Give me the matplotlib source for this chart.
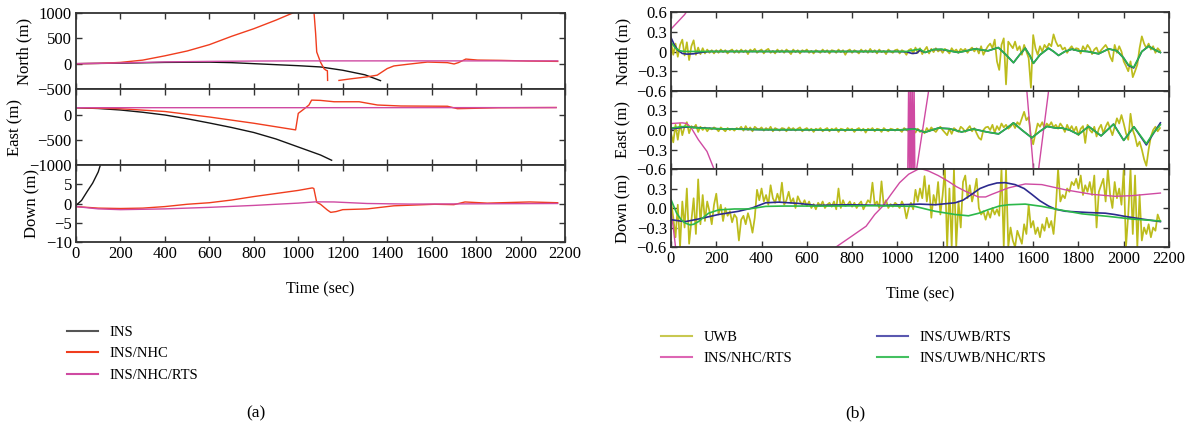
import numpy as np
import matplotlib
matplotlib.use("Agg")
import matplotlib.pyplot as plt
from matplotlib.lines import Line2D

plt.rcParams['font.family'] = ['Liberation Serif', 'DejaVu Serif']

# ---------------- (a) INS / INS/NHC / INS/NHC/RTS, metres ----------------
ins_n_t = [0, 200, 400, 600, 700, 800, 900, 1000, 1100, 1200, 1300, 1370]
ins_n = [0, 10, 25, 30, 20, 0, -20, -40, -65, -130, -220, -335]
ins_e_t = [0, 100, 200, 300, 400, 500, 600, 700, 800, 900, 1000, 1100, 1150]
ins_e = [146, 130, 100, 55, 0, -75, -160, -250, -350, -480, -640, -800, -905]
ins_d_t = [0, 25, 50, 75, 100, 115]
ins_d = [-0.5, 0.8, 3.1, 5.3, 8.2, 11]

nhc_n_t = [0, 100, 200, 300, 400, 500, 600, 700, 800, 900, 975, 1000, 1030, 1065,
           1071, 1078, 1083, 1100, 1116, 1125, 1131, 1132, 1150,
           1183, 1235, 1310, 1355, 1400, 1430, 1490, 1581, 1671, 1701, 1720, 1754,
           1807, 1912, 2032, 2167]
nhc_n = [0, 5, 25, 70, 155, 250, 375, 540, 690, 860, 1000, 1070, 1300, 1400,
         1000, 600, 230, 30, -100, -130, -140, -330, np.nan,
         -331, -300, -260, -227, -97, -45, -13, 32, 20, -6, 20, 91,
         71, 65, 52, 45]
nhc_e_t = [0, 200, 400, 600, 800, 988, 1000, 1020, 1048, 1060, 1100, 1161, 1274,
           1356, 1462, 1671, 1716, 1900, 2160]
nhc_e = [146, 125, 70, -40, -165, -298, 33, 100, 199, 298, 292, 265, 265,
         200, 180, 175, 126, 145, 150]
nhc_d_t = [0, 100, 200, 300, 400, 500, 600, 700, 800, 900, 1000, 1063, 1070, 1083,
           1100, 1131, 1146, 1170, 1200, 1311, 1430, 1614, 1700, 1750, 1850, 2040, 2167]
nhc_d = [-0.8, -1.2, -1.3, -1.2, -0.8, -0.2, 0.2, 0.9, 1.8, 2.6, 3.4, 4.05, 3.9, 0.3,
         -0.2, -1.7, -2.3, -2.1, -1.6, -1.4, -0.6, -0.2, -0.3, 0.4, 0.1, 0.4, 0.2]

rts_n_t = [0, 200, 400, 600, 800, 1000, 1500, 2167]
rts_n = [0, 15, 35, 45, 52, 55, 55, 55]
rts_e_t = [0, 1000, 2160]
rts_e = [146, 146, 148]
rts_d_t = [0, 100, 200, 400, 600, 800, 1000, 1078, 1161, 1310, 1500, 2167]
rts_d = [-0.8, -1.4, -1.6, -1.4, -1.0, -0.5, 0.1, 0.43, 0.4, 0.0, -0.15, 0.0]

# ---------------- (b) errors, metres ----------------
uwb_t = np.arange(0, 2170, 10)
uwb_n = [0.15, -0.05, 0.12, -0.08, 0.10, 0.18, -0.06, 0.14, -0.13, 0.08,
         0.17, -0.05, 0.06, -0.04, 0.05, -0.03, 0.03, -0.02, 0.02, -0.03,
         0.02, -0.02, 0.03, -0.01, 0.02, -0.03, 0.01, 0.03, -0.02, 0.02,
         -0.02, 0.03, -0.01, 0.02, -0.04, 0.03, 0.00, 0.04, -0.02, 0.01,
         0.03, -0.03, 0.02, 0.04, -0.02, 0.01, -0.03, 0.03, -0.01, 0.02,
         -0.02, 0.03, 0.00, -0.04, 0.03, -0.01, 0.02, -0.03, 0.02, 0.00,
         0.03, -0.02, 0.01, -0.03, 0.02, 0.00, -0.02, 0.03, -0.01, 0.02,
         -0.03, 0.02, 0.01, -0.02, 0.03, -0.01, 0.02, -0.05, 0.01, 0.03,
         -0.02, 0.02, 0.00, -0.03, 0.03, -0.01, 0.02, -0.02, 0.04, -0.01,
         0.02, -0.03, 0.03, -0.01, 0.01, -0.04, 0.03, 0.00, -0.02, 0.02,
         0.03, -0.03, 0.02, 0.00, -0.05, 0.02, 0.04, -0.03, 0.06, -0.02,
         0.05, -0.04, 0.02, 0.07, -0.03, 0.04, -0.01, 0.05, 0.00, 0.03,
         -0.02, 0.04, 0.01, -0.03, 0.05, 0.00, 0.03, -0.02, 0.04, 0.01,
         0.04, -0.02, 0.03, 0.06, 0.00, 0.05, -0.03, 0.08, -0.05, 0.02,
         0.08, 0.12, 0.05, 0.18, -0.15, -0.28, 0.10, 0.20, -0.50, 0.15,
         0.10, 0.05, 0.15, 0.02, 0.08, -0.05, 0.10, 0.00, -0.10, -0.55,
         0.25, 0.05, -0.05, 0.08, 0.00, 0.10, 0.05, 0.12, 0.08, 0.26,
         0.15, 0.08, 0.10, 0.03, 0.06, -0.02, 0.04, 0.08, 0.02, 0.05,
         0.04, -0.03, 0.08, 0.02, 0.10, 0.05, -0.04, 0.03, 0.06, -0.03,
         0.02, 0.06, 0.10, 0.04, -0.08, -0.15, 0.10, -0.02, 0.08, 0.00,
         -0.15, -0.22, -0.30, -0.15, -0.39, -0.30, -0.20, 0.05, 0.23, 0.12,
         0.05, 0.12, 0.03, 0.08, -0.02, 0.05, 0.01]
uwb_e = [-0.05, -0.19, 0.08, -0.15, 0.10, -0.08, 0.05, 0.12, -0.05, 0.06,
         0.03, 0.08, -0.03, 0.05, 0.00, 0.04, -0.02, 0.03, 0.01, 0.04,
         0.02, -0.02, 0.04, 0.01, -0.02, 0.03, 0.00, 0.02, -0.01, 0.03,
         0.01, 0.05, -0.01, 0.06, 0.00, 0.04, -0.02, 0.05, 0.02, 0.01,
         0.04, -0.01, 0.03, 0.00, 0.05, -0.02, 0.03, 0.01, -0.01, 0.03,
         0.02, -0.02, 0.04, 0.00, 0.03, -0.01, 0.02, 0.04, -0.02, 0.01,
         0.03, -0.01, 0.02, -0.03, 0.02, 0.00, 0.03, -0.02, 0.01, 0.03,
         -0.02, 0.02, 0.00, 0.03, -0.03, 0.02, 0.01, -0.02, 0.03, 0.00,
         0.02, -0.03, 0.01, 0.03, -0.01, 0.02, -0.04, 0.02, 0.00, 0.03,
         -0.02, 0.02, 0.01, -0.03, 0.03, 0.00, -0.02, 0.02, 0.01, -0.01,
         0.02, 0.00, -0.03, 0.03, 0.00, -0.02, 0.02, 0.01, -0.04, 0.02,
         -0.03, 0.00, -0.05, 0.03, -0.02, 0.04, 0.00, -0.03, 0.02, 0.05,
         0.00, -0.04, -0.08, 0.02, -0.06, 0.03, 0.00, -0.03, 0.05, 0.02,
         -0.03, 0.02, 0.06, -0.02, 0.03, -0.05, -0.12, -0.15, 0.00, 0.04,
         0.05, 0.00, 0.08, -0.04, 0.06, 0.00, 0.10, 0.04, 0.08, 0.02,
         0.05, 0.10, 0.03, 0.12, 0.08, 0.18, 0.28, 0.15, 0.20, -0.10,
         -0.22, -0.05, 0.10, 0.05, 0.12, 0.03, 0.10, 0.06, 0.12, 0.04,
         0.08, 0.02, 0.10, 0.05, -0.03, 0.08, 0.00, 0.06, -0.02, 0.05,
         -0.08, 0.02, 0.06, -0.20, 0.08, 0.00, -0.04, 0.05, -0.10, 0.02,
         0.08, -0.05, 0.05, 0.12, 0.02, -0.08, 0.05, 0.18, 0.10, 0.23,
         0.10, -0.05, -0.15, 0.25, 0.00, -0.10, -0.25, -0.18, -0.30, -0.45,
         -0.55, -0.30, -0.10, 0.00, 0.05, -0.02, 0.03]
uwb_d = [0.12, -0.15, -0.45, 0.05, -0.60, 0.10, -0.30, 0.30, -0.55, -0.20,
         0.15, -0.40, 0.44, -0.25, 0.20, -0.20, 0.10, -0.05, -0.25, 0.05,
         0.22, -0.10, 0.05, -0.20, 0.00, -0.12, -0.05, -0.22, -0.10, -0.15,
         -0.50, -0.18, -0.12, -0.25, -0.08, -0.20, -0.38, -0.15, 0.28, 0.12,
         0.30, 0.10, 0.20, 0.05, 0.35, 0.15, 0.08, 0.22, 0.10, 0.39,
         0.05, 0.12, 0.25, 0.08, 0.15, 0.00, 0.18, 0.10, 0.05, 0.12,
         0.03, 0.10, 0.00, 0.06, -0.02, 0.08, 0.03, 0.10, 0.00, 0.05,
         0.08, 0.02, 0.10, -0.02, 0.30, 0.00, 0.12, 0.03, 0.05, 0.10,
         0.02, 0.08, 0.00, 0.06, 0.10, -0.02, 0.05, 0.12, 0.08, 0.39,
         0.05, 0.10, 0.00, 0.41, 0.03, 0.12, 0.00, 0.06, 0.02, 0.08,
         0.05, 0.00, 0.10, 0.03, -0.16, 0.00, 0.08, -0.02, 0.28, 0.10,
         0.30, 0.15, 0.49, 0.10, 0.35, -0.15, 0.20, 0.05, 0.40, -0.10,
         0.20, 0.60, -0.60, 0.30, -0.60, 0.60, -0.60, 0.10, -0.30, 0.40,
         0.50, 0.15, 0.35, 0.10, 0.25, 0.45, 0.00, -0.10, -0.05, -0.18,
         -0.05, -0.15, 0.00, -0.10, -0.02, -0.12, 0.60, -0.60, 0.60, -0.60,
         -0.30, -0.50, -0.60, -0.35, -0.45, -0.55, -0.25, -0.40, 0.05, -0.30,
         -0.20, -0.40, -0.30, -0.45, -0.25, -0.35, -0.15, -0.30, -0.20, -0.40,
         0.00, 0.60, 0.10, 0.20, 0.15, 0.30, 0.25, 0.40, 0.35, 0.45,
         0.30, 0.50, 0.20, 0.35, 0.25, 0.40, 0.20, 0.50, -0.30, 0.25,
         0.35, 0.45, 0.10, 0.60, 0.20, 0.00, 0.40, 0.15, 0.30, 0.05,
         0.60, -0.60, -0.10, 0.60, -0.40, 0.50, -0.60, 0.20, -0.50, -0.30,
         -0.40, -0.25, -0.45, -0.30, -0.35, -0.10, -0.20]

mag_n_t = [0, 30, 60, 80, 150, 500, 2160]
mag_n = [0.34, 0.45, 0.56, 0.66, 1.2, 4.0, 10.0]
mag_e_t = [0, 50, 70, 90, 121, 159, 190, 230, 600, 1000, 1045, 1050, 1054, 1058, 1062,
           1066, 1070, 1074, 1078, 1085, 1138, 1200, 1500, 1550, 1572, 1601, 1612,
           1624, 1668, 1720, 2160]
mag_e = [0.10, 0.11, 0.10, 0.03, -0.15, -0.33, -0.60, -1.0, -3.0, -2.5, -1.0, 0.8, -0.9, 0.8, -0.9,
         0.8, -0.9, 0.7, -0.9, -0.6, 0.6, 1.8, 2.5, 1.2, 0.6, -0.6, -0.85,
         -0.6, 0.6, 1.8, 3.0]
mag_d_t = [0, 10, 20, 40, 100, 400, 600, 729, 800, 862, 900, 936, 970, 1010, 1050, 1099,
           1137, 1180, 1225, 1260, 1299, 1358, 1390, 1417, 1491, 1565, 1638, 1742, 1860,
           1963, 2037, 2162]
mag_d = [-0.05, -0.30, -0.60, -1.2, -2.5, -1.6, -0.95, -0.60, -0.43, -0.28, -0.10, 0.03, 0.20,
         0.39, 0.52, 0.61, 0.57, 0.50, 0.41, 0.33, 0.26, 0.17, 0.17, 0.21, 0.31, 0.37,
         0.36, 0.28, 0.21, 0.18, 0.19, 0.23]

grn_n_t = [0, 20, 40, 60, 1000, 1040, 1077, 1100, 1122, 1160, 1196, 1230, 1269, 1305,
           1343, 1400, 1446, 1480, 1513, 1540, 1565, 1585, 1601, 1630, 1668, 1690, 1712,
           1740, 1771, 1800, 1840, 1889, 1934, 1970, 2000, 2020, 2044, 2080, 2110, 2140, 2162]
grn_n = [0.14, 0.05, 0.01, 0.0, 0.0, 0.0, 0.025, 0.035, -0.015, 0.03, 0.035, 0.01, -0.015,
         0.01, 0.04, 0.01, 0.06, -0.05, -0.17, -0.05, 0.05, -0.06, -0.18, -0.05, 0.05,
         0.0, -0.06, 0.0, 0.035, 0.01, 0.0, -0.035, 0.04, 0.01, -0.1, -0.2, -0.24, 0.0,
         0.08, 0.02, -0.015]
blu_n_t = [0, 15, 30, 50, 70, 100, 130, 170, 1000, 1040, 1065, 1085, 1100, 1122, 1160,
           1196, 1230, 1269, 1305, 1343, 1400, 1446, 1480, 1513, 1540, 1565, 1585, 1601,
           1630, 1668, 1690, 1712, 1740, 1771, 1800, 1840, 1889, 1934, 1970, 2000, 2020,
           2044, 2080, 2110, 2140, 2162]
blu_n = [0.21, 0.10, 0.02, -0.03, -0.04, -0.035, -0.015, 0.0, 0.0, -0.005, -0.03, -0.025,
         0.02, -0.015, 0.03, 0.03, 0.01, -0.015, 0.01, 0.04, 0.01, 0.06, -0.05, -0.17,
         -0.05, 0.05, -0.06, -0.18, -0.05, 0.05, 0.0, -0.06, 0.0, 0.035, 0.01, 0.0,
         -0.035, 0.04, 0.01, -0.1, -0.21, -0.25, 0.0, 0.08, 0.02, -0.015]

grn_e_t = [0, 33, 62, 121, 200, 270, 400, 1000, 1077, 1122, 1181, 1230, 1284, 1336,
           1395, 1447, 1480, 1513, 1550, 1594, 1630, 1661, 1700, 1727, 1760, 1800, 1845,
           1900, 1955, 2000, 2045, 2100, 2130, 2162]
grn_e = [0.03, 0.045, 0.055, 0.03, 0.02, 0.015, 0.005, 0.0, 0.015, -0.035, 0.03, 0.02,
         -0.03, 0.015, -0.03, -0.06, 0.02, 0.11, 0.0, -0.12, -0.02, 0.055, 0.03, 0.03,
         0.0, -0.07, 0.055, -0.09, 0.09, -0.16, 0.05, -0.21, -0.05, 0.08]
blu_e_t = [0, 30, 62, 100, 200, 400, 1000, 1077, 1122, 1181, 1230, 1284, 1336, 1395,
           1447, 1480, 1513, 1550, 1594, 1630, 1661, 1700, 1727, 1760, 1800, 1845, 1900,
           1955, 2000, 2045, 2100, 2130, 2162]
blu_e = [0.015, 0.03, 0.045, 0.04, 0.02, 0.005, 0.0, 0.015, -0.035, 0.03, 0.02, -0.03,
         0.015, -0.03, -0.06, 0.02, 0.11, 0.0, -0.12, -0.02, 0.055, 0.03, 0.03, 0.0,
         -0.07, 0.055, -0.09, 0.09, -0.16, 0.05, -0.23, -0.06, 0.11]

grn_d_t = [0, 25, 45, 62, 84, 100, 121, 145, 166, 210, 280, 344, 418, 500, 700, 900,
           1077, 1166, 1255, 1314, 1360, 1402, 1450, 1491, 1565, 1638, 1712, 1816, 1934,
           2037, 2162]
grn_d = [0.13, -0.08, -0.18, -0.23, -0.26, -0.25, -0.21, -0.14, -0.08, -0.03, -0.015,
         -0.015, 0.025, 0.03, 0.03, 0.035, 0.025, -0.05, -0.10, -0.12, -0.08, -0.025,
         0.03, 0.05, 0.06, 0.025, -0.025, -0.09, -0.13, -0.17, -0.20]
blu_d_t = [0, 62, 121, 210, 299, 358, 418, 477, 566, 640, 788, 936, 1099, 1166, 1255,
           1290, 1328, 1365, 1402, 1440, 1476, 1520, 1560, 1594, 1630, 1668, 1700, 1742,
           1845, 1919, 1960, 2007, 2081, 2162]
blu_d = [-0.18, -0.21, -0.17, -0.10, -0.05, 0.0, 0.08, 0.09, 0.07, 0.04, 0.05, 0.04,
         0.06, 0.05, 0.08, 0.12, 0.21, 0.30, 0.35, 0.385, 0.39, 0.36, 0.30, 0.21, 0.11,
         0.03, -0.02, -0.05, -0.07, -0.08, -0.10, -0.13, -0.17, -0.21]

c_ins = '#141414'
c_nhc = '#f03d1e'
c_rts = '#cf4aa2'
c_uwb = '#bcbc1c'
c_blu = '#2c2a8e'
c_grn = '#2cb84a'
lw = 1.0
tfs = 12      # tick labels
yfs = 12      # y labels
xfs = 11.5    # x labels

fig = plt.figure(figsize=(11.91, 4.28), dpi=100)
W, H = 1191.0, 428.0


def panel(x0, x1, ytop, ybot):
    ax = fig.add_axes([x0 / W, 1 - ybot / H, (x1 - x0) / W, (ybot - ytop) / H])
    ax.set_xlim(0, 2200)
    ax.set_xticks(range(0, 2201, 200))
    ax.tick_params(direction='in', top=True, right=True, length=4, width=1.0,
                   labelsize=tfs, color='#333333', pad=3)
    for s in ax.spines.values():
        s.set_linewidth(1.3)
        s.set_color('#333333')
    return ax


# (a)
la = [panel(76, 565, 13, 89), panel(76, 565, 89, 165), panel(76, 565, 165, 242)]
la[0].plot(ins_n_t, ins_n, color=c_ins, lw=lw)
la[0].plot(nhc_n_t, nhc_n, color=c_nhc, lw=lw)
la[0].plot(rts_n_t, rts_n, color=c_rts, lw=lw)
la[0].set_ylim(-500, 1000)
la[0].set_yticks([-500, 0, 500, 1000], ['−500', '0', '500', '1000'])
la[0].set_ylabel('North (m)', fontsize=yfs)

la[1].plot(ins_e_t, ins_e, color=c_ins, lw=lw)
la[1].plot(nhc_e_t, nhc_e, color=c_nhc, lw=lw)
la[1].plot(rts_e_t, rts_e, color=c_rts, lw=lw)
la[1].set_ylim(-1000, 520)
la[1].set_yticks([-1000, -500, 0], ['−1000', '−500', '0'])
la[1].set_ylabel('East (m)', fontsize=yfs)

la[2].plot(ins_d_t, ins_d, color=c_ins, lw=lw)
la[2].plot(nhc_d_t, nhc_d, color=c_nhc, lw=lw)
la[2].plot(rts_d_t, rts_d, color=c_rts, lw=lw)
la[2].set_ylim(-10, 10)
la[2].set_yticks([-10, -5, 0, 5], ['−10', '−5', '0', '5'])
la[2].set_ylabel('Down (m)', fontsize=yfs)

for ax in la[:2]:
    ax.tick_params(labelbottom=False)
la[2].set_xlabel('Time (sec)', fontsize=xfs, labelpad=14)
fig.align_ylabels(la)

# (b)
rb = [panel(671, 1169, 12, 91), panel(671, 1169, 91, 169), panel(671, 1169, 169, 247)]
series_b = [
    (uwb_n, mag_n_t, mag_n, blu_n_t, blu_n, grn_n_t, grn_n, 'North (m)'),
    (uwb_e, mag_e_t, mag_e, blu_e_t, blu_e, grn_e_t, grn_e, 'East (m)'),
    (uwb_d, mag_d_t, mag_d, blu_d_t, blu_d, grn_d_t, grn_d, 'Down (m)'),
]
for i, (ax, s) in enumerate(zip(rb, series_b)):
    uw, mt, mv, bt, bv, gt, gv, lab = s
    ax.plot(uwb_t, uw, color=c_uwb, lw=1.25)
    ax.plot(mt, mv, color=c_rts, lw=lw)
    ax.plot(bt, bv, color=c_blu, lw=1.2)
    ax.plot(gt, gv, color=c_grn, lw=1.2)
    ax.set_ylim(-0.6, 0.6)
    if i == 0:
        ax.set_yticks([-0.6, -0.3, 0, 0.3, 0.6], ['−0.6', '−0.3', '0', '0.3', '0.6'])
    else:
        ax.set_yticks([-0.6, -0.3, 0, 0.3, 0.6], ['−0.6', '−0.3', '0.0', '0.3', ''])
    ax.set_ylabel(lab, fontsize=yfs)
    if i < 2:
        ax.tick_params(labelbottom=False)
rb[2].set_xlabel('Time (sec)', fontsize=xfs, labelpad=14)
fig.align_ylabels(rb)

# legends
lfs = 10.5
common = dict(frameon=False, fontsize=lfs, handlelength=2.1, handletextpad=0.8,
              labelspacing=0.55, borderpad=0, borderaxespad=0, loc='upper left')
fig.legend([Line2D([], [], color=c, lw=1.5) for c in ('#555555', c_nhc, c_rts)],
           ['INS', 'INS/NHC', 'INS/NHC/RTS'], bbox_to_anchor=(67 / W, 1 - 326 / H), **common)
fig.legend([Line2D([], [], color=c, lw=1.5) for c in ('#c8c850', '#dd66b4')],
           ['UWB', 'INS/NHC/RTS'], bbox_to_anchor=(661 / W, 1 - 331 / H), **common)
fig.legend([Line2D([], [], color=c, lw=1.5) for c in ('#5a58b0', '#44c060')],
           ['INS/UWB/RTS', 'INS/UWB/NHC/RTS'], bbox_to_anchor=(877 / W, 1 - 331 / H), **common)

fig.text(256 / W, 1 - 413 / H, '(a)', ha='center', va='center', fontsize=12.5)
fig.text(855 / W, 1 - 413 / H, '(b)', ha='center', va='center', fontsize=12.5)

fig.savefig('out.png', dpi=100)
